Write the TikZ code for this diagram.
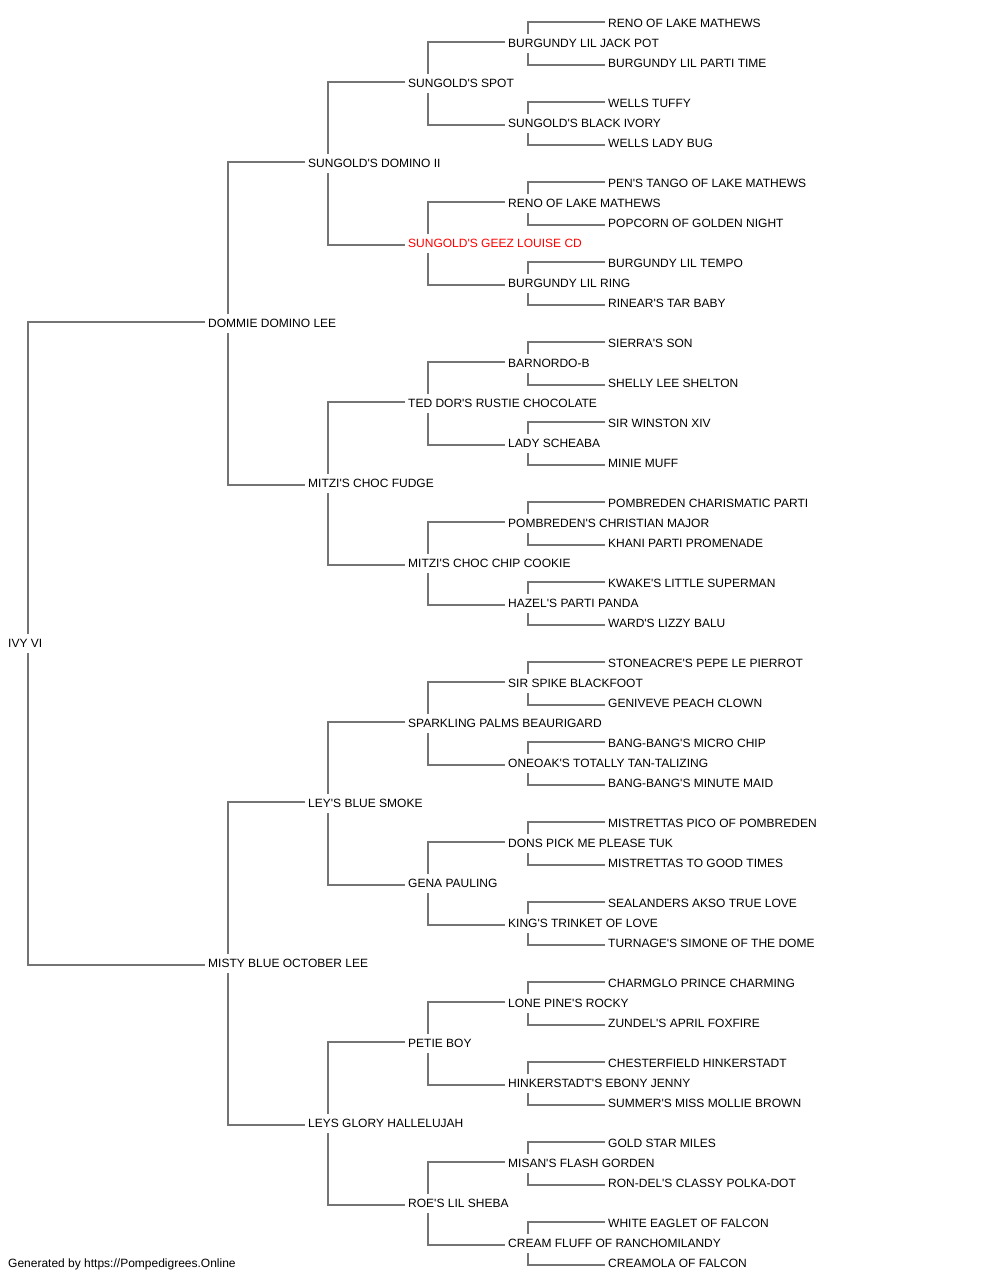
\documentclass[tikz,border=0pt]{standalone}
\usepackage{fontspec}
\setmainfont{Liberation Sans}[Ligatures=TeXOff]
\usetikzlibrary{backgrounds}
\definecolor{linegray}{HTML}{747474}
\definecolor{namered}{HTML}{FF0000}
\begin{document}
\begin{tikzpicture}[x=1pt,y=-1pt,
  pname/.style={anchor=west,inner xsep=0pt,inner ysep=0pt,text height=8.6pt,text depth=0pt,minimum height=19pt,fill=white,font=\fontsize{12}{14}\selectfont},
  link/.style={draw=linegray,line width=1.6pt}]
\useasboundingbox (0,0) rectangle (1000,1280);
% generation 0
\node[pname] (g0n0) at (8,643.5) {IVY VI};
% generation 1
\foreach \t [count=\i from 0] in {DOMMIE DOMINO LEE,MISTY BLUE OCTOBER LEE}
  \node[pname] (g1n\i) at (208,{323.5+640*\i}) {\t};
% generation 2
\foreach \t [count=\i from 0] in {SUNGOLD'S DOMINO II,MITZI'S CHOC FUDGE,LEY'S BLUE SMOKE,LEYS GLORY HALLELUJAH}
  \node[pname] (g2n\i) at (308,{163.5+320*\i}) {\t};
% generation 3
\foreach \t/\c [count=\i from 0] in {SUNGOLD'S SPOT/black,SUNGOLD'S GEEZ LOUISE CD/namered,TED DOR'S RUSTIE CHOCOLATE/black,MITZI'S CHOC CHIP COOKIE/black,SPARKLING PALMS BEAURIGARD/black,GENA PAULING/black,PETIE BOY/black,ROE'S LIL SHEBA/black}
  \node[pname,text=\c] (g3n\i) at (408,{83.5+160*\i}) {\t};
% generation 4
\foreach \t [count=\i from 0] in {BURGUNDY LIL JACK POT,SUNGOLD'S BLACK IVORY,RENO OF LAKE MATHEWS,BURGUNDY LIL RING,BARNORDO-B,LADY SCHEABA,POMBREDEN'S CHRISTIAN MAJOR,HAZEL'S PARTI PANDA,SIR SPIKE BLACKFOOT,ONEOAK'S TOTALLY TAN-TALIZING,DONS PICK ME PLEASE TUK,KING'S TRINKET OF LOVE,LONE PINE'S ROCKY,HINKERSTADT'S EBONY JENNY,MISAN'S FLASH GORDEN,CREAM FLUFF OF RANCHOMILANDY}
  \node[pname] (g4n\i) at (508,{43.5+80*\i}) {\t};
% generation 5
\foreach \t [count=\i from 0] in {RENO OF LAKE MATHEWS,BURGUNDY LIL PARTI TIME,WELLS TUFFY,WELLS LADY BUG,PEN'S TANGO OF LAKE MATHEWS,POPCORN OF GOLDEN NIGHT,BURGUNDY LIL TEMPO,RINEAR'S TAR BABY,SIERRA'S SON,SHELLY LEE SHELTON,SIR WINSTON XIV,MINIE MUFF,POMBREDEN CHARISMATIC PARTI,KHANI PARTI PROMENADE,KWAKE'S LITTLE SUPERMAN,WARD'S LIZZY BALU,STONEACRE'S PEPE LE PIERROT,GENIVEVE PEACH CLOWN,BANG-BANG'S MICRO CHIP,BANG-BANG'S MINUTE MAID,MISTRETTAS PICO OF POMBREDEN,MISTRETTAS TO GOOD TIMES,SEALANDERS AKSO TRUE LOVE,TURNAGE'S SIMONE OF THE DOME,CHARMGLO PRINCE CHARMING,ZUNDEL'S APRIL FOXFIRE,CHESTERFIELD HINKERSTADT,SUMMER'S MISS MOLLIE BROWN,GOLD STAR MILES,RON-DEL'S CLASSY POLKA-DOT,WHITE EAGLET OF FALCON,CREAMOLA OF FALCON}
  \node[pname] (g5n\i) at (608,{23.5+40*\i}) {\t};
% footer
\node[pname] (footer) at (8,1263.5) {Generated by https://Pompedigrees.Online};
% connectors
\begin{scope}[on background layer]
\foreach \g in {0,...,4} {
  \pgfmathtruncatemacro\h{\g+1}
  \pgfmathtruncatemacro\n{2^\g-1}
  \foreach \i in {0,...,\n} {
    \pgfmathtruncatemacro\a{2*\i}
    \pgfmathtruncatemacro\b{2*\i+1}
    \draw[link] ([xshift=-3pt,yshift=1.5pt]g\h n\a.west) -| ([xshift=20pt]g\g n\i.west) |- ([xshift=-3pt,yshift=-1.5pt]g\h n\b.west);
  }
}
\end{scope}
\end{tikzpicture}
\end{document}
